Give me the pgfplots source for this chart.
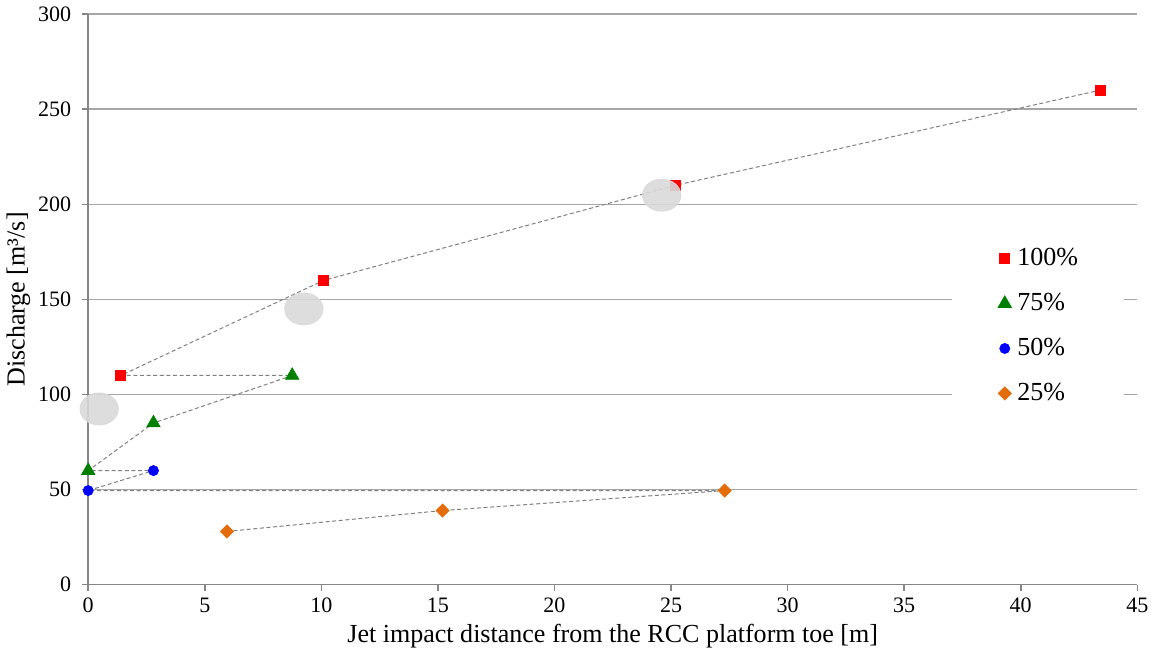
\documentclass[border=0pt]{standalone}
\usepackage{pgfplots}
\pgfplotsset{compat=1.18}
\usepackage{fontspec}
\setmainfont{Liberation Serif}
\definecolor{gridgray}{HTML}{A6A6A6}
\definecolor{axgray}{HTML}{868686}
\definecolor{ora}{HTML}{E46C0A}
\definecolor{grn}{HTML}{008000}
\definecolor{blob}{HTML}{D9D9D9}
\begin{document}
\begin{tikzpicture}
\begin{axis}[
  scale only axis,
  width=524pt, height=285pt,
  xmin=0, xmax=45, ymin=0, ymax=300,
  xtick distance=5, ytick distance=50,
  axis x line*=bottom, axis y line*=left,
  axis line style={axgray, line width=0.75pt, -},
  ymajorgrids,
  grid style={gridgray, line width=0.75pt},
  tick align=outside,
  major tick length=3pt,
  tick style={axgray, line width=0.75pt},
  xticklabel={\pgfmathprintnumber[assume math mode=true]{\tick}},
  yticklabel={\pgfmathprintnumber[assume math mode=true]{\tick}},
  tick label style={font=\fontsize{11}{13}\selectfont},
  yticklabel style={xshift=-2pt},
  label style={font=\fontsize{13}{15}\selectfont},
  xlabel={Jet impact distance from the RCC platform toe [m]},
  ylabel={Discharge [m³/s]},
  xlabel style={yshift=1pt},
  ylabel style={yshift=-3pt},
  legend style={at={(0.867,0.597)}, anchor=north west, draw=none, fill=none,
    font=\fontsize{13}{15}\selectfont, row sep=8.3pt, inner xsep=0pt, inner ysep=0pt,
    nodes={inner xsep=3pt}},
  legend cell align=left,
  legend image code/.code={\draw[#1] plot coordinates {(0cm,0cm)};},
]
% dashed connector
\addplot[forget plot, color=gray, line width=0.5pt, dash pattern=on 2pt off 1.3pt]
 coordinates {(5.95,28) (15.2,39) (27.3,49.5) (0,49.5) (2.8,60) (0,60) (2.8,85) (8.75,110) (1.4,110) (10.1,160) (25.2,210) (43.4,260)};
\fill[white] (axis cs:37.05,85) rectangle (axis cs:44.45,184);
\addplot[only marks, mark=square*, mark size=2.5pt, color=red] coordinates {(1.4,110) (10.1,160) (25.2,210) (43.4,260)};
\addlegendentry{100\%}
\addplot[only marks, mark=triangle*, mark size=3.8pt, color=grn] coordinates {(0,60) (2.8,85) (8.75,110)};
\addlegendentry{75\%}
\addplot[only marks, mark=*, mark size=2.5pt, color=blue] coordinates {(0,49.5) (2.8,60)};
\addlegendentry{50\%}
\addplot[only marks, mark=square*, mark size=2.3pt, color=ora, mark options={rotate=45}] coordinates {(5.95,28) (15.2,39) (27.3,49.5)};
\addlegendentry{25\%}
% grey blobs
\addplot[forget plot, only marks, mark=*, mark size=8pt, color=blob, mark options={xscale=1.2, opacity=0.9}]
 coordinates {(0.47,92.4) (9.25,145) (24.6,204.8)};
\end{axis}
\end{tikzpicture}
\end{document}
